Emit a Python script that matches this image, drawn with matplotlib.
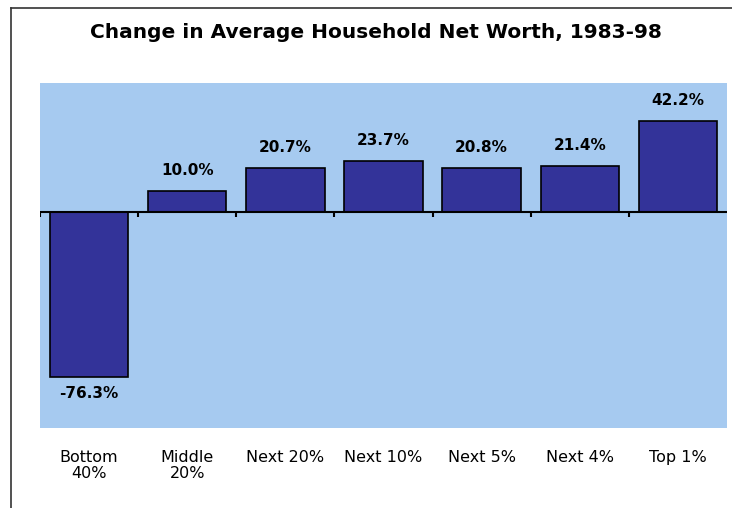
import matplotlib.pyplot as plt
from matplotlib.lines import Line2D
import numpy as np

groups = ["Bottom\n40%", "Middle\n20%", "Next 20%", "Next 10%", "Next 5%", "Next 4%", "Top 1%"]
changes = [-76.3, 10.0, 20.7, 23.7, 20.8, 21.4, 42.2]
value_labels = ["-76.3%", "10.0%", "20.7%", "23.7%", "20.8%", "21.4%", "42.2%"]

fig = plt.figure(figsize=(7.32, 5.08), dpi=100)
ax = fig.add_axes([40/732, 1-428/508, 687/732, 345/508])
ax.set_facecolor("#a6caf0")

x = np.arange(len(groups))
ax.bar(x, changes, width=0.8, color="#333399", edgecolor="black", linewidth=1.2, zorder=2)

ymin, ymax = -100, 60
ax.set_ylim(ymin, ymax)
ax.set_xlim(-0.5, len(groups) - 0.5)

# zero axis with boundary ticks
ax.axhline(0, color="black", lw=1.5, zorder=3)
ax.vlines(np.arange(len(groups)) - 0.5, 0, -2.2, color="black", lw=1.5, zorder=3)

for xi, v, lab in zip(x, changes, value_labels):
    if v >= 0:
        ax.text(xi, v + 6, lab, ha="center", va="bottom", fontsize=11, fontweight="bold")
    else:
        ax.text(xi, v - 4, lab, ha="center", va="top", fontsize=11, fontweight="bold")

for s in ax.spines.values():
    s.set_visible(False)
ax.set_yticks([])
ax.set_xticks(x)
ax.set_xticklabels(groups, fontsize=11.5, linespacing=1.05)
ax.tick_params(axis="x", length=0, pad=16)

fig.text(376/732, 1 - 32/508, "Change in Average Household Net Worth, 1983-98",
         ha="center", va="center", fontsize=14.5, fontweight="bold")

# outer frame (partly cut off)
fig.add_artist(Line2D([11/732, 11/732], [0, 1 - 8/508], color="#333333", lw=1.2))
fig.add_artist(Line2D([11/732, 1], [1 - 8/508, 1 - 8/508], color="#333333", lw=1.2))

fig.savefig("out.png", dpi=100)
